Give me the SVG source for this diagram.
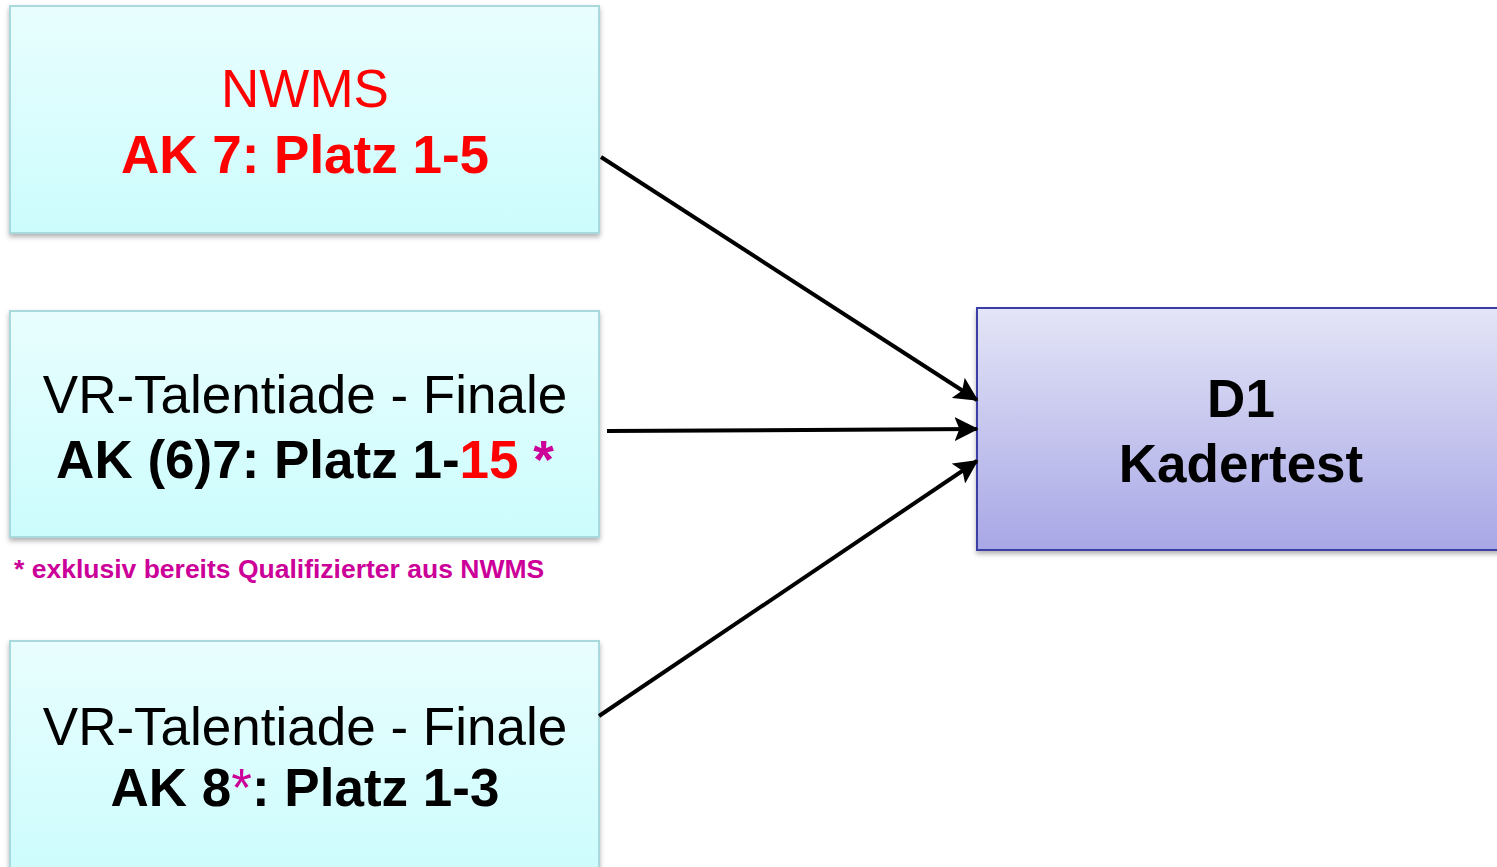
<svg xmlns="http://www.w3.org/2000/svg" width="1497" height="867" viewBox="0 0 1497 867">
<style>
.t{font-family:"Liberation Sans",Arial,sans-serif;font-size:53px;text-anchor:middle}
.b{font-weight:bold}
.src{fill:url(#cy);stroke:#A9D9DC;stroke-width:2;filter:url(#sh)}
.conn line{stroke:#000;stroke-width:4;marker-end:url(#ah)}
</style>
<defs>
<linearGradient id="cy" x1="0" y1="0" x2="0" y2="1"><stop offset="0" stop-color="#E9FEFE"/><stop offset="1" stop-color="#CCFCFD"/></linearGradient>
<linearGradient id="pu" x1="0" y1="0" x2="0" y2="1"><stop offset="0" stop-color="#E4E5F7"/><stop offset="1" stop-color="#A8A7E6"/></linearGradient>
<filter id="sh" x="-5%" y="-5%" width="110%" height="115%"><feDropShadow dx="0" dy="3" stdDeviation="2.5" flood-color="#000" flood-opacity="0.3"/></filter>
<marker id="ah" markerWidth="6" markerHeight="6" refX="5.6" refY="3" orient="auto" markerUnits="strokeWidth"><path d="M0,0 L6,3 L0,6 L1.2,3 z" fill="#000"/></marker>
</defs>
<rect width="1497" height="867" fill="#fff"/>
<g id="nwms">
<rect class="src" x="10" y="6" width="589" height="227"/>
<text class="t" x="305" y="107" fill="#FF0000">NWMS</text>
<text class="t b" x="305" y="173" fill="#FF0000">AK 7: Platz 1-5</text>
</g>
<g id="vr67">
<rect class="src" x="10" y="311" width="589" height="226"/>
<text class="t" x="305" y="413" fill="#000">VR-Talentiade - Finale</text>
<text class="t b" x="305" y="478" fill="#000">AK (6)7: Platz 1-<tspan fill="#FF0000">15</tspan> <tspan fill="#CC0099">*</tspan></text>
</g>
<g id="note">
<text x="14" y="578" font-family="Liberation Sans,Arial,sans-serif" font-size="26.5" font-weight="bold" fill="#CC0099">* exklusiv bereits Qualifizierter aus NWMS</text>
</g>
<g id="vr8">
<rect class="src" x="10" y="641" width="589" height="240"/>
<text class="t" x="305" y="745" fill="#000">VR-Talentiade - Finale</text>
<text class="t b" x="305" y="806" fill="#000">AK 8<tspan fill="#CC0099" font-weight="normal">*</tspan>: Platz 1-3</text>
</g>
<g id="d1">
<rect x="977" y="308" width="540" height="242" fill="url(#pu)" stroke="#3D3DA6" stroke-width="2" filter="url(#sh)"/>
<text class="t b" x="1241" y="417" fill="#000">D1</text>
<text class="t b" x="1241" y="482" fill="#000">Kadertest</text>
</g>
<g class="conn" id="connectors">
<line x1="601" y1="157" x2="977" y2="400"/>
<line x1="607" y1="431" x2="977" y2="429"/>
<line x1="599" y1="716" x2="977" y2="461"/>
</g>
</svg>
